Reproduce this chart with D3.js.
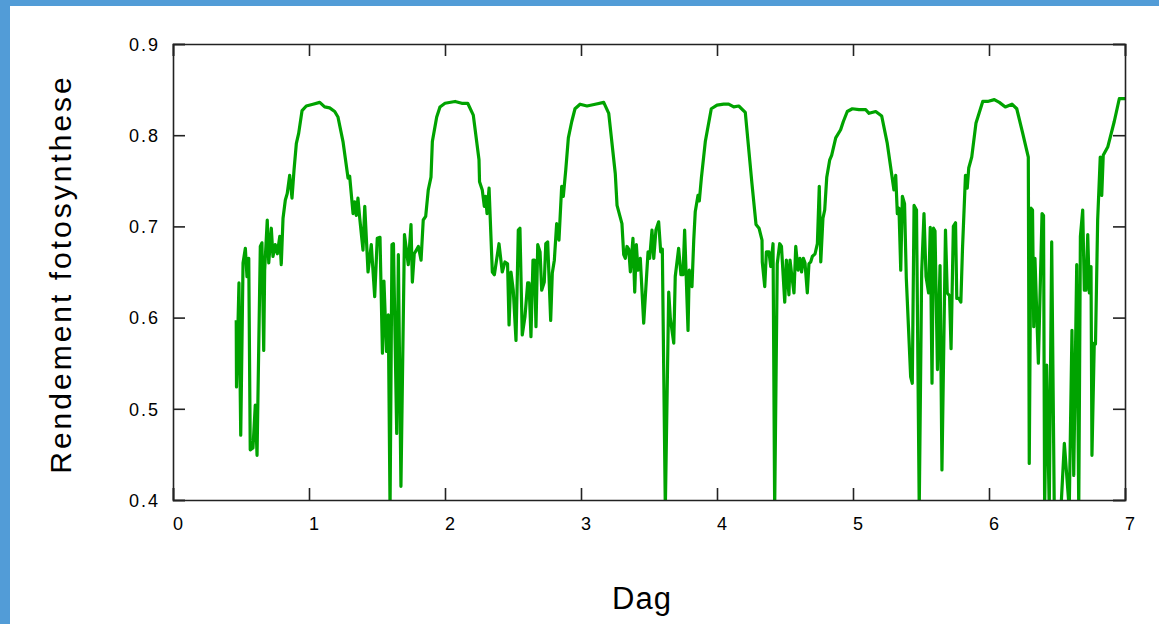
<!DOCTYPE html>
<html><head><meta charset="utf-8">
<script src="https://cdnjs.cloudflare.com/ajax/libs/d3/7.8.5/d3.min.js"></script>
<style>
html,body{margin:0;padding:0;background:#fff;}
svg{display:block;}
text{font-family:"Liberation Sans",Arial,sans-serif;fill:#000;}
</style></head>
<body>
<script>
// Day (x) values
const days = [0.465,0.467,0.485,0.498,0.515,0.532,0.544,0.557,0.568,0.588,0.605,0.618,0.642,0.654,0.667,0.674,0.693,0.704,0.723,0.735,0.752,0.767,0.785,0.796,0.809,0.826,0.840,0.858,0.875,0.890,0.907,0.924,0.949,0.980,1.029,1.079,1.115,1.152,1.189,1.213,1.250,1.287,1.299,1.324,1.336,1.348,1.360,1.373,1.397,1.410,1.434,1.458,1.483,1.502,1.522,1.540,1.551,1.570,1.583,1.596,1.610,1.621,1.645,1.657,1.676,1.702,1.730,1.750,1.760,1.774,1.804,1.824,1.840,1.858,1.877,1.897,1.907,1.939,1.963,2.000,2.074,2.123,2.167,2.208,2.250,2.254,2.274,2.289,2.299,2.309,2.324,2.348,2.363,2.397,2.421,2.441,2.460,2.471,2.485,2.502,2.522,2.539,2.551,2.568,2.588,2.608,2.618,2.632,2.647,2.658,2.669,2.682,2.699,2.711,2.730,2.741,2.755,2.777,2.789,2.804,2.821,2.838,2.858,2.870,2.888,2.907,2.932,2.956,2.993,3.044,3.105,3.167,3.204,3.252,3.265,3.301,3.314,3.326,3.338,3.351,3.363,3.382,3.395,3.407,3.419,3.436,3.461,3.493,3.505,3.522,3.535,3.551,3.571,3.586,3.598,3.620,3.645,3.657,3.682,3.693,3.718,3.735,3.750,3.762,3.787,3.796,3.816,3.829,3.840,3.860,3.870,3.885,3.914,3.958,4.000,4.049,4.086,4.123,4.160,4.208,4.257,4.287,4.309,4.331,4.333,4.351,4.363,4.382,4.395,4.412,4.424,4.443,4.461,4.474,4.498,4.510,4.529,4.537,4.551,4.566,4.579,4.596,4.610,4.622,4.635,4.647,4.664,4.676,4.689,4.701,4.721,4.738,4.752,4.763,4.779,4.792,4.807,4.829,4.843,4.873,4.909,4.929,4.958,4.995,5.044,5.093,5.118,5.167,5.211,5.252,5.301,5.314,5.326,5.338,5.351,5.363,5.379,5.392,5.424,5.436,5.449,5.467,5.487,5.505,5.522,5.537,5.556,5.568,5.581,5.592,5.603,5.621,5.640,5.654,5.680,5.693,5.710,5.721,5.738,5.754,5.763,5.779,5.793,5.805,5.827,5.840,5.851,5.873,5.904,5.954,5.990,6.039,6.076,6.120,6.169,6.204,6.248,6.289,6.296,6.309,6.320,6.329,6.338,6.363,6.390,6.401,6.409,6.424,6.443,6.461,6.480,6.515,6.554,6.574,6.590,6.610,6.623,6.645,6.660,6.672,6.689,6.701,6.713,6.726,6.738,6.750,6.757,6.774,6.783,6.799,6.818,6.829,6.840,6.873,6.921,6.958,7.000];
// Photosynthesis yield values
const yieldValues = [0.597,0.524,0.638,0.471,0.660,0.676,0.645,0.665,0.455,0.457,0.504,0.449,0.678,0.682,0.564,0.652,0.707,0.660,0.698,0.667,0.680,0.670,0.689,0.658,0.709,0.729,0.736,0.756,0.731,0.762,0.791,0.802,0.827,0.832,0.834,0.836,0.831,0.830,0.826,0.820,0.793,0.753,0.755,0.714,0.727,0.712,0.731,0.709,0.674,0.722,0.650,0.680,0.623,0.687,0.688,0.561,0.640,0.563,0.603,0.39,0.680,0.681,0.473,0.669,0.415,0.691,0.658,0.702,0.639,0.670,0.678,0.663,0.707,0.711,0.740,0.754,0.793,0.820,0.831,0.835,0.837,0.835,0.835,0.822,0.773,0.749,0.740,0.722,0.733,0.714,0.742,0.650,0.647,0.681,0.650,0.661,0.659,0.592,0.650,0.630,0.575,0.696,0.698,0.581,0.601,0.638,0.638,0.579,0.663,0.663,0.590,0.680,0.672,0.630,0.639,0.681,0.683,0.597,0.649,0.663,0.703,0.685,0.744,0.733,0.762,0.797,0.815,0.829,0.834,0.832,0.834,0.836,0.824,0.758,0.723,0.703,0.669,0.665,0.678,0.675,0.650,0.687,0.628,0.680,0.652,0.665,0.594,0.672,0.665,0.696,0.665,0.696,0.705,0.672,0.675,0.39,0.628,0.599,0.572,0.645,0.676,0.647,0.647,0.696,0.586,0.652,0.634,0.685,0.716,0.734,0.728,0.753,0.793,0.829,0.833,0.834,0.834,0.831,0.832,0.825,0.747,0.702,0.698,0.685,0.661,0.634,0.672,0.672,0.656,0.681,0.39,0.659,0.681,0.678,0.617,0.663,0.625,0.663,0.645,0.627,0.678,0.652,0.665,0.650,0.665,0.660,0.627,0.659,0.661,0.667,0.670,0.681,0.744,0.661,0.709,0.718,0.754,0.773,0.778,0.797,0.806,0.815,0.826,0.829,0.828,0.828,0.824,0.826,0.821,0.791,0.740,0.756,0.714,0.720,0.652,0.733,0.725,0.643,0.535,0.528,0.723,0.718,0.39,0.650,0.714,0.645,0.627,0.699,0.528,0.698,0.695,0.543,0.657,0.433,0.696,0.627,0.624,0.566,0.700,0.704,0.621,0.621,0.617,0.675,0.756,0.742,0.764,0.776,0.813,0.837,0.837,0.839,0.836,0.831,0.834,0.829,0.802,0.776,0.440,0.720,0.718,0.590,0.665,0.550,0.714,0.712,0.39,0.548,0.39,0.683,0.39,0.35,0.462,0.422,0.39,0.586,0.427,0.658,0.39,0.689,0.718,0.630,0.630,0.691,0.627,0.656,0.449,0.572,0.571,0.707,0.776,0.734,0.778,0.787,0.815,0.840,0.840];
const xTicks = [0,1,2,3,4,5,6,7];
const yTicks = [0.4,0.5,0.6,0.7,0.8,0.9];
const xTitle = "Dag";
const yTitle = "Rendement fotosynthese";

const W = 1159, H = 624;
const svg = d3.select("body").append("svg").attr("width", W).attr("height", H);
svg.append("rect").attr("width", W).attr("height", H).attr("fill", "#fff");
svg.append("rect").attr("x",0).attr("y",0).attr("width",W).attr("height",6).attr("fill","#529cd7");
svg.append("rect").attr("x",0).attr("y",0).attr("width",10).attr("height",H).attr("fill","#529cd7");

const L = 173, R = 1125, T = 44, B = 500;
const x = d3.scaleLinear().domain([0,7]).range([L,R]);
const y = d3.scaleLinear().domain([0.4,0.9]).range([B,T]);

svg.append("clipPath").attr("id","clip").append("rect")
  .attr("x",L).attr("y",T).attr("width",R-L).attr("height",B-T);

const data = days.map((d,i)=>[d, yieldValues[i]]);
svg.append("path").datum(data)
  .attr("clip-path","url(#clip)")
  .attr("fill","none").attr("stroke","#00a300").attr("stroke-width",3.2)
  .attr("stroke-linejoin","round")
  .attr("d", d3.line().x(d=>x(d[0])).y(d=>y(d[1])));

const tl = 12;
const axB = svg.append("g").attr("transform",`translate(0,${B})`)
  .call(d3.axisBottom(x).tickValues(xTicks).tickSize(-tl).tickFormat(d3.format("d")));
const axT = svg.append("g").attr("transform",`translate(0,${T})`)
  .call(d3.axisTop(x).tickValues(xTicks).tickSize(-tl).tickFormat(""));
const axL = svg.append("g").attr("transform",`translate(${L},0)`)
  .call(d3.axisLeft(y).tickValues(yTicks).tickSize(-tl).tickFormat(d3.format(".1f")));
const axR = svg.append("g").attr("transform",`translate(${R},0)`)
  .call(d3.axisRight(y).tickValues(yTicks).tickSize(-tl).tickFormat(""));
[axB,axT,axL,axR].forEach(g=>{
  g.selectAll(".domain").attr("stroke","#222").attr("stroke-width",1.6);
  g.selectAll(".tick line").attr("stroke","#222").attr("stroke-width",1.6);
});
axB.selectAll(".tick text").attr("font-size",18).attr("dy","1.5em").attr("dx",5)
  .style("letter-spacing","1px").attr("font-family","Liberation Sans, Arial, sans-serif").attr("fill","#000");
axL.selectAll(".tick text").attr("font-size",18).attr("x",-13).attr("dy","0.35em")
  .style("letter-spacing","2px").attr("font-family","Liberation Sans, Arial, sans-serif").attr("fill","#000");

svg.append("text").attr("x",642).attr("y",609).attr("text-anchor","middle")
  .attr("font-size",31).style("letter-spacing","1px").text(xTitle);
svg.append("text").attr("transform","translate(71,274) rotate(-90)").attr("text-anchor","middle")
  .attr("font-size",30).style("letter-spacing","3px").text(yTitle);
</script>
</body></html>
